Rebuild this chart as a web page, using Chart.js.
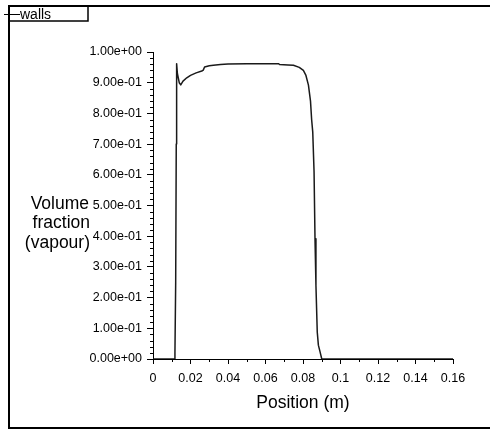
<!DOCTYPE html>
<html>
<head>
<meta charset="utf-8">
<script src="https://cdn.jsdelivr.net/npm/chart.js@4"></script>
<style>
  html, body { margin: 0; padding: 0; background: #fff; }
  #wrap { width: 490px; height: 432px; }
</style>
</head>
<body>
<div id="wrap"><canvas id="myChart" width="490" height="432"></canvas></div>
<script>
// valores (posição em m, fração volumétrica de vapor)
var positions = [0, 0.0112, 0.0117, 0.0121, 0.0124, 0.0126, 0.0130, 0.0140, 0.0148, 0.0160, 0.0180,
  0.0200, 0.0230, 0.0260, 0.0268, 0.0275, 0.0300, 0.0322, 0.0360, 0.0400, 0.0500, 0.0600, 0.0670,
  0.0675, 0.0720, 0.0749, 0.0780, 0.0802, 0.0815, 0.0829, 0.0840, 0.0846, 0.0852, 0.0859, 0.0864,
  0.0869, 0.0876, 0.0882, 0.0891, 0.0900, 0.1600];
var vapour = [0, 0, 0.02, 0.25, 0.70, 0.962, 0.930, 0.900, 0.893, 0.905, 0.916,
  0.924, 0.932, 0.938, 0.941, 0.951, 0.955, 0.957, 0.959, 0.961, 0.962, 0.962, 0.962,
  0.959, 0.958, 0.957, 0.950, 0.940, 0.925, 0.892, 0.840, 0.780, 0.739, 0.609, 0.392,
  0.240, 0.088, 0.045, 0.023, 0, 0];
var xTicks = [0, 0.02, 0.04, 0.06, 0.08, 0.1, 0.12, 0.14, 0.16];
var yTicks = [0, 0.1, 0.2, 0.3, 0.4, 0.5, 0.6, 0.7, 0.8, 0.9, 1.0];

var fonte = '"Liberation Sans", Arial, sans-serif';

function expo(v) {
  return v.toExponential(2).replace(/e([+-])(\d)$/, 'e$10$2');
}

// moldura, legenda, títulos e ticks menores
var extras = {
  id: 'extras',
  afterDraw: function (chart) {
    var c = chart.ctx, a = chart.chartArea;
    var xs = chart.scales.x, ys = chart.scales.y;
    c.save();
    c.strokeStyle = '#000';
    c.lineWidth = 1;
    c.beginPath();
    for (var i = 0; i <= 50; i++) {
      if (i % 5 === 0) continue;
      var py = Math.round(ys.getPixelForValue(i / 50)) + 0.5;
      c.moveTo(a.left - 3, py); c.lineTo(a.left, py);
    }
    for (var j = 1; j < 16; j += 2) {
      var px = Math.round(xs.getPixelForValue(j / 100)) + 0.5;
      c.moveTo(px, a.bottom); c.lineTo(px, a.bottom + 3);
    }
    c.stroke();

    // moldura
    c.lineWidth = 2;
    c.beginPath();
    c.moveTo(490, 6); c.lineTo(9, 6); c.lineTo(9, 428); c.lineTo(490, 428);
    c.stroke();

    // legenda
    c.lineWidth = 1.5;
    c.strokeRect(9, 6, 79, 15);
    c.lineWidth = 1;
    c.beginPath();
    c.moveTo(4, 14.5); c.lineTo(20, 14.5);
    c.stroke();
    c.fillStyle = '#000';
    c.font = '14px ' + fonte;
    c.textAlign = 'left';
    c.textBaseline = 'middle';
    c.fillText('walls', 20, 15);

    // títulos
    c.font = '17.5px ' + fonte;
    c.textAlign = 'right';
    c.fillText('Volume', 89, 204);
    c.fillText('fraction', 90, 223);
    c.fillText('(vapour)', 90, 243);
    c.textAlign = 'center';
    c.fillText('Position (m)', (a.left + a.right) / 2, 403);
    c.restore();
  }
};

var ctx = document.getElementById('myChart').getContext('2d');
var myChart = new Chart(ctx, {
  type: 'line',
  data: {
    datasets: [{
      label: 'walls',
      data: positions.map(function (x, i) { return { x: x, y: vapour[i] }; }),
      borderColor: '#1a1a1a',
      borderWidth: 1.5,
      borderJoinStyle: 'round',
      borderCapStyle: 'round',
      pointRadius: 0,
      tension: 0,
      fill: false
    }]
  },
  options: {
    responsive: false,
    animation: false,
    events: [],
    layout: { padding: { left: 0, top: 52, right: 37, bottom: 0 } },
    plugins: { legend: { display: false }, tooltip: { enabled: false } },
    scales: {
      x: {
        type: 'linear',
        min: 0, max: 0.16,
        afterBuildTicks: function (s) { s.ticks = xTicks.map(function (v) { return { value: v }; }); },
        afterFit: function (s) { s.height = 73; s.paddingLeft = 0; s.paddingRight = 0; },
        grid: { drawOnChartArea: false, drawTicks: true, tickLength: 5, tickColor: '#000' },
        border: { display: true, color: '#000', width: 1 },
        ticks: {
          color: '#000', padding: 7, maxRotation: 0, autoSkip: false,
          font: { family: fonte, size: 12.5 },
          callback: function (v) { return String(Math.round(v * 100) / 100); }
        }
      },
      y: {
        type: 'linear',
        min: 0, max: 1,
        afterBuildTicks: function (s) { s.ticks = yTicks.map(function (v) { return { value: v }; }); },
        afterFit: function (s) { s.width = 153; s.paddingTop = 0; s.paddingBottom = 0; },
        grid: { drawOnChartArea: false, drawTicks: true, tickLength: 6, tickColor: '#000' },
        border: { display: true, color: '#000', width: 1 },
        ticks: {
          color: '#000', padding: 5, autoSkip: false,
          font: { family: fonte, size: 12.5 },
          callback: function (v) { return expo(v); }
        }
      }
    }
  },
  plugins: [extras]
});
</script>
</body>
</html>
